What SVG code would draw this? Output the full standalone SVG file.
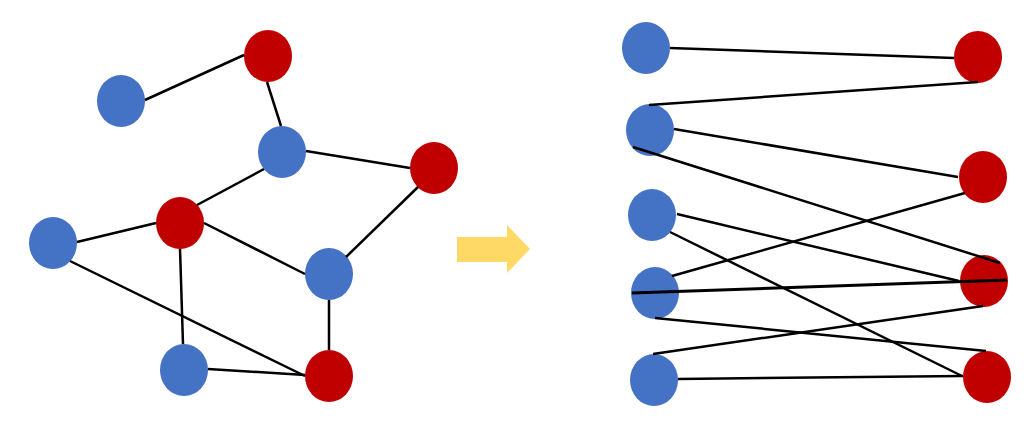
<svg xmlns="http://www.w3.org/2000/svg" width="1029" height="423" viewBox="0 0 1029 423">
<style>
.b{fill:#4472C4}
.r{fill:#C00000}
.e line{stroke:#000;stroke-width:2.5;stroke-linecap:butt}
</style>
<rect width="1029" height="423" fill="#fff"/>
<g id="nA"><ellipse class="r" cx="268" cy="56" rx="24" ry="26"/></g>
<g id="nB"><ellipse class="b" cx="121" cy="101" rx="24" ry="26"/></g>
<g id="nC"><ellipse class="b" cx="282" cy="152" rx="24" ry="26"/></g>
<g id="nD"><ellipse class="r" cx="434" cy="168" rx="24" ry="26"/></g>
<g id="nE"><ellipse class="r" cx="180" cy="223" rx="24" ry="26"/></g>
<g id="nF"><ellipse class="b" cx="53" cy="243" rx="24" ry="26"/></g>
<g id="nG"><ellipse class="b" cx="329" cy="274" rx="24" ry="26"/></g>
<g id="nH"><ellipse class="b" cx="184" cy="370" rx="24" ry="26"/></g>
<g id="nI"><ellipse class="r" cx="329" cy="376" rx="24" ry="26"/></g>
<g id="arrow"><polygon points="457,237 507,237 507,225 530,249 507,273 507,262 457,262" fill="#FFD966"/></g>
<g id="r1"><ellipse class="b" cx="646" cy="48" rx="24" ry="26"/></g>
<g id="r2"><ellipse class="b" cx="650" cy="130" rx="24" ry="26"/></g>
<g id="r3"><ellipse class="b" cx="652" cy="215" rx="24" ry="26"/></g>
<g id="r4"><ellipse class="b" cx="655" cy="293" rx="24" ry="26"/></g>
<g id="r5"><ellipse class="b" cx="654" cy="380" rx="24" ry="26"/></g>
<g id="s1"><ellipse class="r" cx="978" cy="57" rx="24" ry="26"/></g>
<g id="s2"><ellipse class="r" cx="983" cy="177" rx="24" ry="26"/></g>
<g id="s3"><ellipse class="r" cx="984" cy="281" rx="24" ry="26"/></g>
<g id="s4"><ellipse class="r" cx="987" cy="377" rx="24" ry="26"/></g>
<g id="connectors" class="e">
<line x1="145" y1="100" x2="244" y2="55"/>
<line x1="267" y1="82" x2="281" y2="126"/>
<line x1="306" y1="151" x2="410" y2="168"/>
<line x1="264" y1="169" x2="197" y2="205"/>
<line x1="156" y1="223" x2="77" y2="242"/>
<line x1="204" y1="223" x2="305" y2="274"/>
<line x1="418" y1="187" x2="346" y2="257"/>
<line x1="180" y1="249" x2="183" y2="344"/>
<line x1="329" y1="300" x2="329" y2="350"/>
<line x1="70" y1="261" x2="305" y2="376"/>
<line x1="208" y1="369" x2="305" y2="375"/>
<line x1="670" y1="48" x2="954" y2="58"/>
<line x1="978" y1="82" x2="649" y2="105"/>
<line x1="674" y1="129" x2="958" y2="177"/>
<line x1="633" y1="147" x2="1000" y2="263"/>
<line x1="965" y1="193" x2="672" y2="276"/>
<line x1="677" y1="214" x2="959" y2="281"/>
<line x1="670" y1="232" x2="962" y2="376"/>
<line x1="632" y1="293" x2="1007" y2="280" style="stroke-width:3"/>
<line x1="655" y1="318" x2="986" y2="351"/>
<line x1="983" y1="306" x2="653" y2="354"/>
<line x1="678" y1="379" x2="963" y2="376"/>
</g>
</svg>
